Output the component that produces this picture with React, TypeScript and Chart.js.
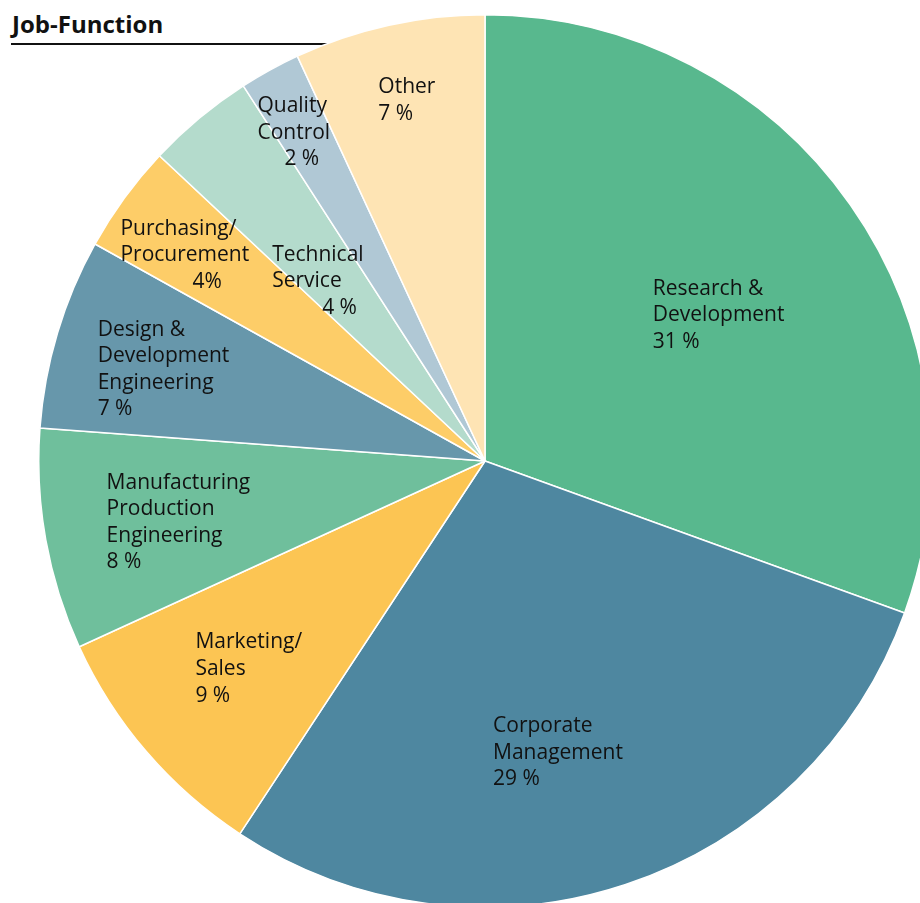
import React, { useEffect, useRef } from "react";
import { Chart, registerables } from "chart.js";

Chart.register(...registerables);

const categories = [
  "Research & Development",
  "Corporate Management",
  "Marketing/Sales",
  "Manufacturing Production Engineering",
  "Design & Development Engineering",
  "Purchasing/Procurement",
  "Technical Service",
  "Quality Control",
  "Other",
];
const values = [30.5, 28.7, 8.9, 8.0, 6.9, 3.9, 3.9, 2.2, 6.9];
const labelLines = [
  ["Research &", "Development", "31 %"],
  ["Corporate", "Management", "29 %"],
  ["Marketing/", "Sales", "9 %"],
  ["Manufacturing", "Production", "Engineering", "8 %"],
  ["Design &", "Development", "Engineering", "7 %"],
  ["Purchasing/", "Procurement", "4%"],
  ["Technical", "Service", "4 %"],
  ["Quality", "Control", "2 %"],
  ["Other", "7 %"],
];
const colors = [
  "#58b88e",
  "#4e87a0",
  "#fcc553",
  "#6fbf9c",
  "#6797ab",
  "#fdcd68",
  "#b4dbcc",
  "#b0c8d5",
  "#fee4b4",
];
// label anchor: left x and first-line centre y, as fractions of the radius from the pie centre
const labelAnchors = [
  [0.376, -0.389],
  [0.018, 0.591],
  [-0.649, 0.403],
  [-0.848, 0.045],
  [-0.868, -0.298],
  [-0.817, -0.524],
  [-0.477, -0.466],
  [-0.510, -0.799],
  [-0.239, -0.841],
];
// extra indent (px) of the last (percentage) line
const lastLineIndent = [0, 0, 0, 0, 0, 72, 50, 27, 0];

const FONT = '21px "Open Sans"';
const LINE_H = 26.6;
const Y_SHIFT = 1.5;

const labelPlugin = {
  id: "sliceLabels",
  afterDatasetsDraw(chart: any) {
    const meta = chart.getDatasetMeta(0);
    const arc = meta.data[0];
    if (!arc) return;
    const cx = arc.x;
    const cy = arc.y;
    const r = arc.outerRadius;
    const ctx = chart.ctx;
    ctx.save();
    ctx.font = FONT;
    ctx.fillStyle = "#111111";
    ctx.textAlign = "left";
    ctx.textBaseline = "middle";
    labelLines.forEach((lines, i) => {
      const x0 = cx + labelAnchors[i][0] * r;
      const y0 = cy + labelAnchors[i][1] * r + Y_SHIFT;
      lines.forEach((t, k) => {
        const indent = k === lines.length - 1 ? lastLineIndent[i] : 0;
        ctx.fillText(t, x0 + indent, y0 + k * LINE_H);
      });
    });
    ctx.restore();
  },
};

export default function App() {
  const ref = useRef<HTMLCanvasElement | null>(null);
  useEffect(() => {
    if (!ref.current) return;
    const chart = new Chart(ref.current, {
      type: "pie",
      data: {
        labels: categories,
        datasets: [
          {
            data: values,
            backgroundColor: colors,
            borderColor: "#ffffff",
            borderWidth: 1.5,
          },
        ],
      },
      options: {
        animation: false,
        responsive: true,
        maintainAspectRatio: false,
        layout: { padding: 0 },
        plugins: {
          legend: { display: false },
          tooltip: { enabled: false },
          title: { display: false },
        },
      },
      plugins: [labelPlugin],
    });
    if ((document as any).fonts && (document as any).fonts.ready) {
      (document as any).fonts.ready.then(() => chart.update());
    }
    return () => chart.destroy();
  }, []);

  return (
    <div
      style={{
        position: "fixed",
        left: 0,
        top: 0,
        width: 920,
        height: 903,
        overflow: "hidden",
        background: "#ffffff",
      }}
    >
      <div
        style={{
          position: "absolute",
          left: 12,
          top: 9,
          fontFamily: '"Open Sans", sans-serif',
          fontWeight: 700,
          fontSize: 24,
          lineHeight: "30px",
          color: "#111111",
        }}
      >
        Job-Function
      </div>
      <div
        style={{
          position: "absolute",
          left: 11,
          top: 43,
          width: 380,
          height: 2,
          background: "#111111",
        }}
      />
      <div
        style={{
          position: "absolute",
          left: 38,
          top: 14,
          width: 894,
          height: 894,
        }}
      >
        <canvas ref={ref} />
      </div>
    </div>
  );
}
